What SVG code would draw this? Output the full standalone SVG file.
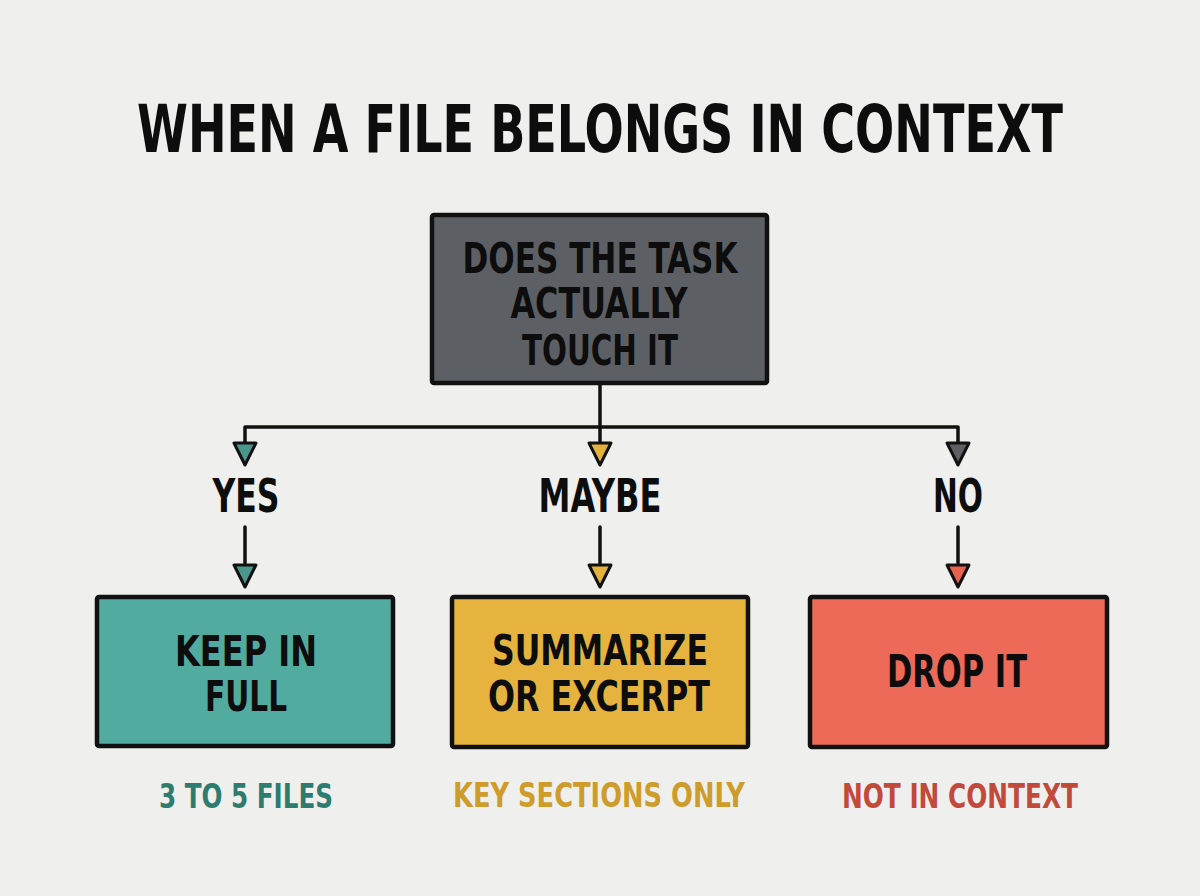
<svg xmlns="http://www.w3.org/2000/svg" width="1200" height="896" viewBox="0 0 1200 896">
  <style>
    .t { font-family: "DejaVu Sans Condensed", "DejaVu Sans", "Liberation Sans", sans-serif; font-weight: bold; font-stretch: condensed; text-anchor: middle; }
    .box { stroke: #111; stroke-width: 4.5; stroke-linejoin: round; }
    .ln { stroke: #111; stroke-width: 3.5; fill: none; stroke-linecap: round; stroke-linejoin: round; }
    .ah { stroke: #111; stroke-width: 3; stroke-linejoin: round; }
  </style>
  <rect width="1200" height="896" fill="#efefed"/>
  <text class="t" x="600" y="152" font-size="65" fill="#0d0d0d" textLength="926" lengthAdjust="spacingAndGlyphs">WHEN A FILE BELONGS IN CONTEXT</text>

  <g id="connectors">
    <path class="ln" d="M600 384 V443 M245 443 V427 H958 V443"/>
    <path class="ln" d="M245 527 V563 M600 527 V563 M958 527 V563"/>
    <polygon class="ah" points="234,443 256,443 245,465" fill="#4a968a"/>
    <polygon class="ah" points="589,443 611,443 600,465" fill="#e3b23c"/>
    <polygon class="ah" points="947,443 969,443 958,465" fill="#5d5f61"/>
    <polygon class="ah" points="234,565 256,565 245,587" fill="#4a968a"/>
    <polygon class="ah" points="589,565 611,565 600,587" fill="#e3b23c"/>
    <polygon class="ah" points="947,565 969,565 958,587" fill="#e8634f"/>
  </g>

  <g id="question">
    <rect class="box" x="432" y="215" width="335" height="168" rx="2" fill="#5c6064"/>
    <text class="t" x="600" y="273" font-size="43" fill="#0d0d0d" textLength="275" lengthAdjust="spacingAndGlyphs">DOES THE TASK</text>
    <text class="t" x="599" y="318" font-size="43" fill="#0d0d0d" textLength="177" lengthAdjust="spacingAndGlyphs">ACTUALLY</text>
    <text class="t" x="600" y="365" font-size="43" fill="#0d0d0d" textLength="156" lengthAdjust="spacingAndGlyphs">TOUCH IT</text>
  </g>

  <g id="label-yes">
    <text class="t" x="246" y="512" font-size="46" fill="#0d0d0d" textLength="67" lengthAdjust="spacingAndGlyphs">YES</text>
  </g>
  <g id="label-maybe">
    <text class="t" x="600" y="512" font-size="46" fill="#0d0d0d" textLength="123" lengthAdjust="spacingAndGlyphs">MAYBE</text>
  </g>
  <g id="label-no">
    <text class="t" x="958" y="512" font-size="46" fill="#0d0d0d" textLength="50" lengthAdjust="spacingAndGlyphs">NO</text>
  </g>

  <g id="keep">
    <rect class="box" x="97" y="597" width="296" height="149" rx="2" fill="#52ab9f"/>
    <text class="t" x="246" y="666" font-size="43" fill="#0d0d0d" textLength="142" lengthAdjust="spacingAndGlyphs">KEEP IN</text>
    <text class="t" x="246" y="711" font-size="43" fill="#0d0d0d" textLength="82" lengthAdjust="spacingAndGlyphs">FULL</text>
    <text class="t" x="246" y="808" font-size="34" fill="#2e7b70" textLength="174" lengthAdjust="spacingAndGlyphs">3 TO 5 FILES</text>
  </g>

  <g id="summarize">
    <rect class="box" x="452" y="597" width="296" height="150" rx="2" fill="#e6b33e"/>
    <text class="t" x="600" y="665" font-size="43" fill="#0d0d0d" textLength="216" lengthAdjust="spacingAndGlyphs">SUMMARIZE</text>
    <text class="t" x="599" y="711" font-size="43" fill="#0d0d0d" textLength="222" lengthAdjust="spacingAndGlyphs">OR EXCERPT</text>
    <text class="t" x="599" y="807" font-size="34" fill="#cd9c2a" textLength="292" lengthAdjust="spacingAndGlyphs">KEY SECTIONS ONLY</text>
  </g>

  <g id="drop">
    <rect class="box" x="810" y="597" width="297" height="150" rx="2" fill="#ec6a57"/>
    <text class="t" x="957" y="687" font-size="45" fill="#0d0d0d" textLength="140" lengthAdjust="spacingAndGlyphs">DROP IT</text>
    <text class="t" x="960" y="808" font-size="34" fill="#c24a3a" textLength="236" lengthAdjust="spacingAndGlyphs">NOT IN CONTEXT</text>
  </g>
</svg>
